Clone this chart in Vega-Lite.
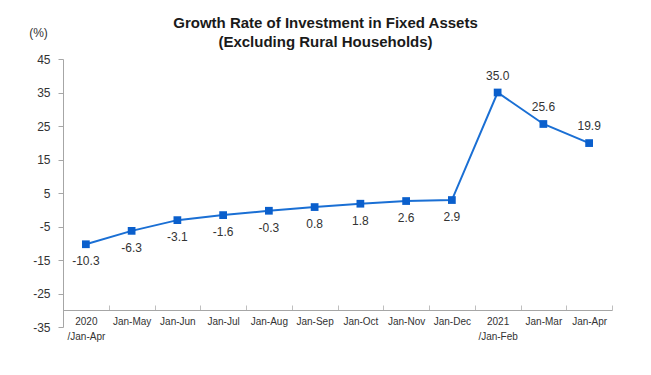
{
  "$schema": "https://vega.github.io/schema/vega-lite/v6.json",
  "width": 549,
  "height": 268,
  "autosize": {"type": "none"},
  "padding": {"left": 63, "top": 59, "right": 39, "bottom": 48},
  "background": "white",
  "title": {
    "text": ["Growth Rate of Investment in Fixed Assets", "(Excluding Rural Households)"],
    "font": "Liberation Sans",
    "fontSize": 15,
    "fontWeight": "bold",
    "color": "#1a1a1a",
    "anchor": "middle",
    "dx": -12,
    "dy": 36,
    "offset": 12,
    "lineHeight": 19
  },
  "config": {
    "view": {"stroke": null},
    "font": "Liberation Sans",
    "locale": {
      "number": {"decimal": ".", "thousands": ",", "grouping": [3], "currency": ["$", ""], "minus": "-"}
    }
  },
  "data": {
    "values": [
      {"period": "2020 /Jan-Apr", "rate": -10.3},
      {"period": "Jan-May", "rate": -6.3},
      {"period": "Jan-Jun", "rate": -3.1},
      {"period": "Jan-Jul", "rate": -1.6},
      {"period": "Jan-Aug", "rate": -0.3},
      {"period": "Jan-Sep", "rate": 0.8},
      {"period": "Jan-Oct", "rate": 1.8},
      {"period": "Jan-Nov", "rate": 2.6},
      {"period": "Jan-Dec", "rate": 2.9},
      {"period": "2021 /Jan-Feb", "rate": 35.0},
      {"period": "Jan-Mar", "rate": 25.6},
      {"period": "Jan-Apr", "rate": 19.9}
    ]
  },
  "encoding": {
    "x": {
      "field": "period",
      "type": "nominal",
      "sort": null,
      "scale": {"paddingInner": 0, "paddingOuter": 0},
      "axis": {
        "title": null,
        "labelAngle": 0,
        "labelExpr": "split(datum.label, ' ')",
        "labelFont": "Liberation Sans",
        "labelFontSize": 10,
        "labelColor": "#333333",
        "labelPadding": 11,
        "labelLineHeight": 15,
        "tickBand": "extent",
        "tickSize": -5,
        "tickColor": "#bfbfbf",
        "domainColor": "#a6a6a6",
        "offset": -17
      }
    },
    "y": {
      "field": "rate",
      "type": "quantitative",
      "scale": {"domain": [-35, 45]},
      "axis": {
        "values": [-35, -25, -15, -5, 5, 15, 25, 35, 45],
        "grid": false,
        "title": "(%)",
        "titleAngle": 0,
        "titleFont": "Liberation Sans",
        "titleFontSize": 12,
        "titleFontWeight": "normal",
        "titleColor": "#333333",
        "titleX": -25,
        "titleY": -20,
        "titleAlign": "center",
        "labelFont": "Liberation Sans",
        "labelFontSize": 12,
        "labelColor": "#333333",
        "labelPadding": 8,
        "tickSize": 5,
        "tickColor": "#a6a6a6",
        "domainColor": "#a6a6a6"
      }
    }
  },
  "layer": [
    {"mark": {"type": "line", "color": "#1a6fd4", "strokeWidth": 2}},
    {"mark": {"type": "point", "shape": "square", "filled": true, "size": 60, "color": "#0a5fcc", "opacity": 1}},
    {
      "transform": [{"filter": "datum.rate < 10"}],
      "mark": {"type": "text", "dy": 17, "fontSize": 12, "color": "#333333", "font": "Liberation Sans"},
      "encoding": {"text": {"field": "rate", "type": "quantitative", "format": ".1f"}}
    },
    {
      "transform": [{"filter": "datum.rate >= 10"}],
      "mark": {"type": "text", "dy": -17, "fontSize": 12, "color": "#333333", "font": "Liberation Sans"},
      "encoding": {"text": {"field": "rate", "type": "quantitative", "format": ".1f"}}
    }
  ]
}
